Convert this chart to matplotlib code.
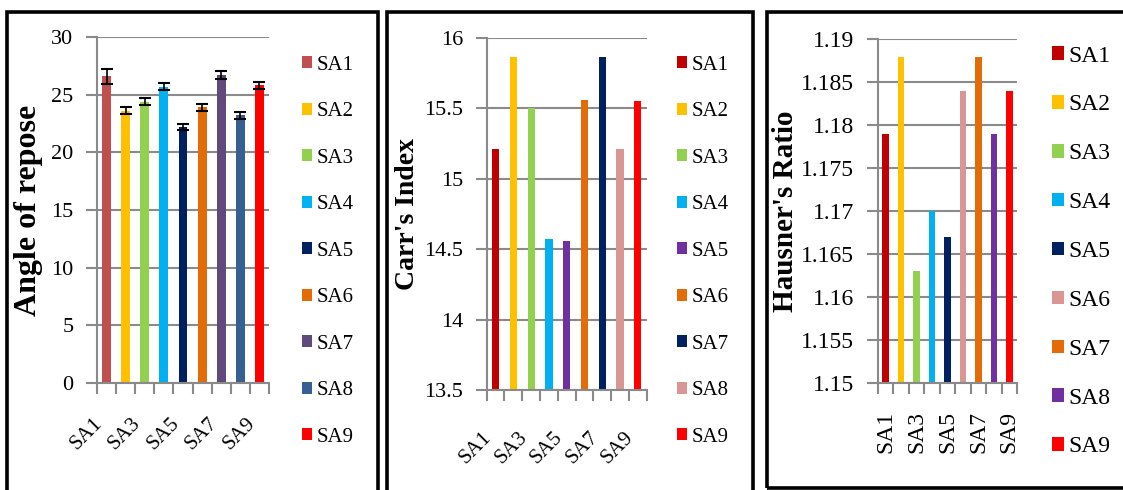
import matplotlib
matplotlib.use("Agg")
import matplotlib.pyplot as plt
from matplotlib.patches import Patch, Rectangle

W, H = 1123, 490

samples = ["SA1", "SA2", "SA3", "SA4", "SA5", "SA6", "SA7", "SA8", "SA9"]
repose = [26.6, 23.6, 24.4, 25.7, 22.2, 23.9, 26.7, 23.2, 25.8]
repose_err = [0.65, 0.3, 0.3, 0.3, 0.25, 0.3, 0.37, 0.3, 0.3]
carr = [15.21, 15.86, 15.50, 14.57, 14.56, 15.56, 15.86, 15.21, 15.55]
hausner = [1.179, 1.188, 1.163, 1.170, 1.167, 1.184, 1.188, 1.179, 1.184]

repose_colors = ["#C0504D", "#FFC000", "#92D050", "#00B0F0", "#002060",
                 "#E36C09", "#604A7B", "#376092", "#FF0000"]
carr_colors = ["#C00000", "#FFC000", "#92D050", "#00B0F0", "#7030A0",
               "#E36C09", "#002060", "#D99694", "#FF0000"]
hausner_colors = ["#C00000", "#FFC000", "#92D050", "#00B0F0", "#002060",
                  "#D99694", "#E36C09", "#7030A0", "#FF0000"]

plt.rcParams["font.family"] = ["Liberation Serif", "DejaVu Serif"]
GRID = "#8a8a8a"

fig = plt.figure(figsize=(W / 100, H / 100), dpi=100)


def px_axes(x0, y0, x1, y1):
    # pixel box (top-left origin) -> figure axes
    return fig.add_axes([x0 / W, 1 - y1 / H, (x1 - x0) / W, (y1 - y0) / H])


def frame(x0, y0, x1, y1):
    fig.patches.append(Rectangle((x0 / W, 1 - y1 / H), (x1 - x0) / W, (y1 - y0) / H,
                                 transform=fig.transFigure, fill=False,
                                 edgecolor="black", linewidth=2.6))


def style(ax, ylim, yticks, tick_fs, xtick_fs, ylabel, ylabel_fs, ylabel_x,
          xrot, xpad):
    n = len(samples)
    ax.set_xlim(-0.5, n - 0.5)
    ax.set_ylim(*ylim)
    ax.set_yticks(yticks)
    ax.set_yticklabels([f"{v:g}" for v in yticks], fontsize=tick_fs)
    ax.yaxis.grid(True, color=GRID, linewidth=1.5)
    ax.set_axisbelow(True)
    for s in ["top", "right"]:
        ax.spines[s].set_visible(False)
    for s in ["left", "bottom"]:
        ax.spines[s].set_color(GRID)
        ax.spines[s].set_linewidth(1.5)
    ax.tick_params(axis="y", length=8, width=1.5, color=GRID, pad=9)
    # category labels on every other bar, ticks on the boundaries
    ax.set_xticks(range(0, n, 2))
    if xrot == 90:
        ax.set_xticklabels(samples[::2], rotation=90, ha="center", va="top",
                           fontsize=xtick_fs)
    else:
        ax.set_xticklabels(samples[::2], rotation=xrot, ha="right", va="top",
                           fontsize=xtick_fs)
    ax.set_xticks([i - 0.5 for i in range(n + 1)], minor=True)
    ax.tick_params(axis="x", which="major", length=0, pad=xpad)
    ax.tick_params(axis="x", which="minor", length=8, width=1.5, color=GRID)
    ax.set_ylabel(ylabel, fontsize=ylabel_fs, fontweight="bold", va="center")
    ax.yaxis.set_label_coords(ylabel_x, 0.5)


def legend(ax, colors, x, yc, fs, spacing):
    handles = [Patch(facecolor=c, edgecolor="none") for c in colors]
    ax.legend(handles, samples, loc="center left",
              bbox_to_anchor=(x / W, 1 - yc / H), bbox_transform=fig.transFigure,
              frameon=False, fontsize=fs, handlelength=0.5, handleheight=0.5,
              handletextpad=0.2, labelspacing=spacing, borderpad=0,
              borderaxespad=0)


# Angle of repose
ax1 = px_axes(97, 37, 269, 383)
ax1.bar(range(len(samples)), repose, width=0.47, color=repose_colors,
        yerr=repose_err, error_kw=dict(ecolor="black", elinewidth=1.2,
                                       capsize=4.5, capthick=1.5))
style(ax1, (0, 30), [0, 5, 10, 15, 20, 25, 30], 16, 15,
      "Angle of repose", 23, -0.40, 45, 22)
legend(ax1, repose_colors, 302, 251, 15, 1.32)
frame(7, 12, 378, 500)

# Carr's index
ax2 = px_axes(486.7, 37.7, 646.7, 390)
ax2.bar(range(len(samples)), carr, width=0.41, color=carr_colors)
style(ax2, (13.5, 16), [13.5, 14, 14.5, 15, 15.5, 16], 16, 15,
      "Carr's Index", 20, -0.495, 45, 27)
legend(ax2, carr_colors, 677, 251, 15, 1.32)
frame(387, 12, 753, 500)

# Hausner's ratio
ax3 = px_axes(878, 39.3, 1017, 383.3)
ax3.bar(range(len(samples)), hausner, width=0.43, color=hausner_colors)
style(ax3, (1.15, 1.19), [1.15, 1.155, 1.16, 1.165, 1.17, 1.175, 1.18, 1.185, 1.19],
      17, 17, "Hausner's Ratio", 21, -0.665, 90, 20)
legend(ax3, hausner_colors, 1052, 251.5, 17, 1.18)
frame(767, 12, 1130, 488)

fig.savefig("out.png", dpi=100)
